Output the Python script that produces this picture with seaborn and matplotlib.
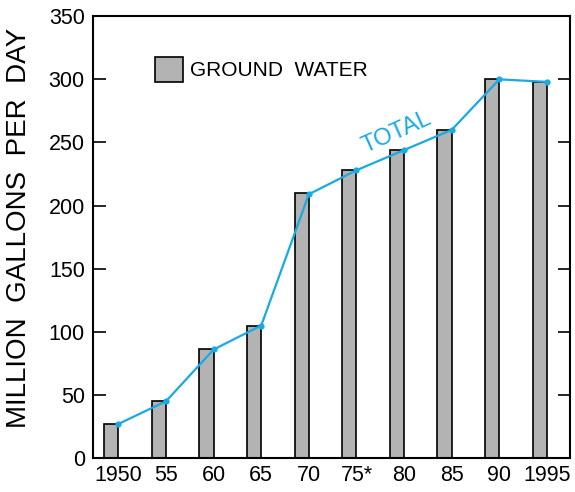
import numpy as np
import pandas as pd
import seaborn as sns
import matplotlib.pyplot as plt
from matplotlib.patches import Patch

# data
years = ["1950", "55", "60", "65", "70", "75*", "80", "85", "90", "1995"]
ground_water = [27, 45, 86, 105, 210, 228, 244, 260, 300, 298]
total = [27, 45, 86, 105, 209, 228, 244, 260, 300, 298]

sns.set_style("white")
plt.rcParams["font.family"] = ["Liberation Sans", "DejaVu Sans"]
plt.rcParams["text.color"] = "black"
plt.rcParams["axes.labelcolor"] = "black"
plt.rcParams["xtick.color"] = "black"
plt.rcParams["ytick.color"] = "black"

df = pd.DataFrame({"year": years, "ground": ground_water, "total": total})

fig, ax = plt.subplots(figsize=(5.75, 4.92), dpi=100)

bar_w = 0.3
sns.barplot(data=df, x="year", y="ground", color="#b3b3b3", saturation=1,
            width=bar_w, edgecolor="black", linewidth=1.2, ax=ax)
# bars sit just left of the year mark
for p in ax.patches:
    p.set_x(p.get_x() - bar_w / 2)

sns.lineplot(x=np.arange(len(years)), y=df["total"], color="#19a9e3",
             linewidth=1.6, marker="o", markersize=4.5, markeredgewidth=0, ax=ax)

ax.text(5.85, 258, "TOTAL", color="#19a9e3", fontsize=17, rotation=24,
        ha="center", va="center")

ax.legend(handles=[Patch(facecolor="#b3b3b3", edgecolor="black", linewidth=1.2)],
          labels=["GROUND  WATER"], loc="upper left", bbox_to_anchor=(0.09, 0.95),
          frameon=False, fontsize=15, handlelength=1.35, handleheight=1.45,
          handletextpad=0.35)

ax.set_xlim(-0.53, 9.48)
ax.set_ylim(0, 350)
ax.set_yticks(range(0, 351, 50))
ax.set_xlabel("")
ax.set_ylabel("MILLION  GALLONS  PER  DAY", fontsize=20)
ax.yaxis.set_label_coords(-0.128, 0.52)
ax.tick_params(axis="y", direction="in", length=9, width=1.2, right=True,
               left=True, labelsize=15.5, pad=6)
ax.tick_params(axis="x", length=0, labelsize=15.5, pad=5)
for s in ax.spines.values():
    s.set_linewidth(1.5)
    s.set_color("black")

fig.subplots_adjust(left=0.162, right=0.991, top=0.967, bottom=0.069)
fig.savefig("out.png", dpi=100)
